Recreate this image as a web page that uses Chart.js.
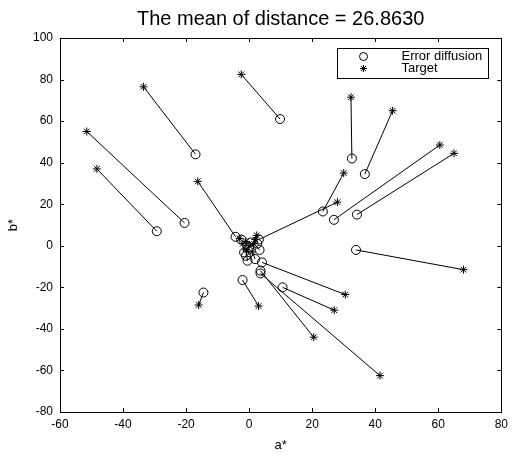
<!DOCTYPE html>
<html>
<head>
<meta charset="utf-8">
<script src="https://cdn.jsdelivr.net/npm/chart.js@4.4.0/dist/chart.umd.min.js"></script>
<style>
  html, body { margin: 0; padding: 0; background: #fff; }
  #wrap { width: 513px; height: 456px; }
</style>
</head>
<body>
<div id="wrap"><canvas id="dist"></canvas></div>
<script>
// error diffusion result (a*, b*)
const errA = [9.8, -17.0, -20.5, -29.3, -4.3, -14.5, -2.1, 32.6, 36.7, 23.4, 3.1, 26.9, 34.2, 33.9, 4.1, 10.6, 3.6, 3.6, 3.3, -1.0, -0.5, 1.9, 0.0, 0.5, -1.6, -2.5, 2.6];
const errB = [61, 44, 11, 7, 4.3, -22.5, -16.5, 42, 34.5, 16.5, 3, 12.5, 15, -2, -8, -20, -12, -13.3, -2, -4.8, -7.2, -6.4, -0.8, 1.6, -3.2, 3, 1];
// target colours (a*, b*)
const tgtA = [-2.5, -33.5, -51.5, -48.3, -16.3, -16, 3, 32.3, 45.5, 30, 28, 60.5, 65, 68, 30.5, 27, 20.5, 41.5, 1.5, 0, -1, 1, 2, -1, -2, -3, 2.4];
const tgtB = [82.5, 76.5, 55, 37, 31, -28.5, -29, 71.5, 65, 35, 21, 48.5, 44.5, -11.5, -23.5, -31, -44, -62.5, 1, 0, -2, -3, 3, 2, 1, 3.5, 5];

const xTicks = [-60, -40, -20, 0, 20, 40, 60, 80];
const yTicks = [-80, -60, -40, -20, 0, 20, 40, 60, 80, 100];
const titleText = 'The mean of distance = 26.8630';

Chart.defaults.font.family = '"Liberation Sans", Arial, Helvetica, sans-serif';
Chart.defaults.font.size = 12;
Chart.defaults.color = '#000';

const errPts = errA.map((a, i) => ({x: a, y: errB[i]}));
const tgtPts = tgtA.map((a, i) => ({x: a, y: tgtB[i]}));
const links = [];
errPts.forEach((p, i) => {
  links.push(p, tgtPts[i], {x: null, y: null});
});

// inward ticks + frame, matlab style
const frame = {
  id: 'frame',
  afterDraw(chart) {
    const {ctx, chartArea: ca, scales} = chart;
    ctx.save();
    ctx.strokeStyle = '#000';
    ctx.lineWidth = 1;
    ctx.beginPath();
    xTicks.forEach(v => {
      const px = Math.round(scales.x.getPixelForValue(v)) + 0.5;
      ctx.moveTo(px, ca.bottom); ctx.lineTo(px, ca.bottom - 4);
      ctx.moveTo(px, ca.top); ctx.lineTo(px, ca.top + 4);
    });
    yTicks.forEach(v => {
      const py = Math.round(scales.y.getPixelForValue(v)) + 0.5;
      ctx.moveTo(ca.left, py); ctx.lineTo(ca.left + 4, py);
      ctx.moveTo(ca.right, py); ctx.lineTo(ca.right - 4, py);
    });
    ctx.stroke();
    ctx.strokeRect(Math.round(ca.left) + 0.5, Math.round(ca.top) + 0.5,
      Math.round(ca.right - ca.left), Math.round(ca.bottom - ca.top));

    // legend box
    const bw = 151, bh = 30;
    const bx = Math.round(ca.right - 13 - bw) + 0.5, by = Math.round(ca.top + 10) + 0.5;
    ctx.fillStyle = '#fff';
    ctx.fillRect(bx, by, bw, bh);
    ctx.strokeRect(bx, by, bw, bh);
    ctx.font = '13px "Liberation Sans", Arial, sans-serif';
    ctx.textBaseline = 'middle';
    ctx.textAlign = 'left';
    [0, 1].forEach(k => {
      const ds = chart.data.datasets[k];
      const yy = by + 8 + k * 12;
      ctx.strokeStyle = '#000';
      ctx.fillStyle = 'rgba(0,0,0,0)';
      Chart.helpers.drawPoint(ctx, {pointStyle: ds.pointStyle, radius: ds.pointRadius - 0.5,
        rotation: 0, borderWidth: 1}, bx + 26, yy);
      ctx.fillStyle = '#000';
      ctx.fillText(ds.label, bx + 64, yy);
    });

    // title
    ctx.font = '20px "Liberation Sans", Arial, sans-serif';
    ctx.textAlign = 'center';
    ctx.textBaseline = 'middle';
    ctx.fillText(titleText, (ca.left + ca.right) / 2, 19);
    ctx.restore();
  }
};

new Chart(document.getElementById('dist'), {
  type: 'scatter',
  data: {
    datasets: [
      {
        label: 'Error diffusion',
        data: errPts,
        pointStyle: 'circle',
        pointRadius: 4.5,
        borderColor: '#000',
        backgroundColor: 'rgba(0,0,0,0)',
        borderWidth: 1
      },
      {
        label: 'Target',
        data: tgtPts,
        pointStyle: 'star',
        pointRadius: 4,
        borderColor: '#000',
        backgroundColor: 'rgba(0,0,0,0)',
        borderWidth: 1
      },
      {
        label: 'links',
        data: links,
        showLine: true,
        spanGaps: false,
        pointRadius: 0,
        borderColor: '#000',
        borderWidth: 1
      }
    ]
  },
  options: {
    responsive: true,
    maintainAspectRatio: false,
    animation: false,
    layout: { padding: { top: 38, right: 8, left: 0, bottom: 0 } },
    plugins: {
      legend: { display: false },
      tooltip: { enabled: false },
      title: { display: false }
    },
    scales: {
      x: {
        type: 'linear',
        min: -60, max: 80,
        afterBuildTicks: s => { s.ticks = xTicks.map(v => ({value: v})); },
        afterFit: s => { s.height = 44; },
        grid: { display: false, drawTicks: false },
        border: { display: false },
        ticks: { padding: 5, maxRotation: 0 },
        title: { display: true, text: 'a*', font: { size: 13 }, padding: { top: 0, bottom: 3 } }
      },
      y: {
        type: 'linear',
        min: -80, max: 100,
        afterBuildTicks: s => { s.ticks = yTicks.map(v => ({value: v})); },
        afterFit: s => { s.width = 60; },
        grid: { display: false, drawTicks: false },
        border: { display: false },
        ticks: { padding: 7 },
        title: { display: true, text: 'b*', font: { size: 13 }, padding: { top: 6, bottom: 0 } }
      }
    }
  },
  plugins: [frame]
});
</script>
</body>
</html>
